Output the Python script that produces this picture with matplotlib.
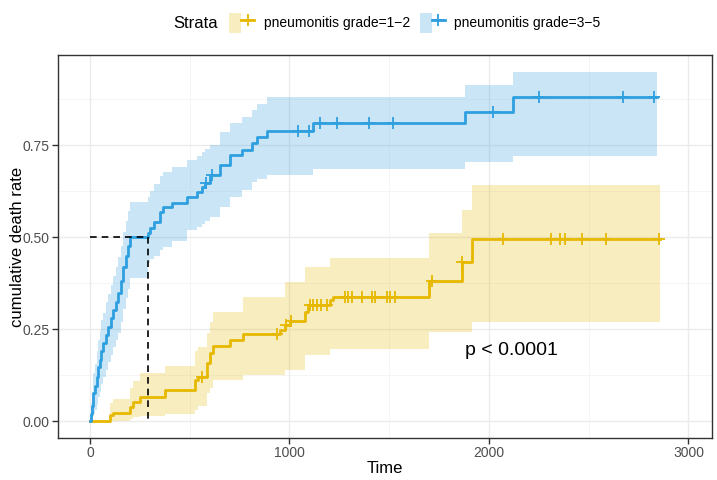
import numpy as np
import matplotlib
matplotlib.use("Agg")
import matplotlib.pyplot as plt
from matplotlib.patches import Patch
from matplotlib.lines import Line2D
from matplotlib.legend_handler import HandlerTuple

plt.rcParams['font.family'] = ['Liberation Sans', 'DejaVu Sans']

# ---- data ----
# grade 1-2 (yellow)
g12_t = [0, 100, 117, 200, 217, 251, 376, 526, 543, 585, 601, 618, 702, 768, 952, 977,
         1003, 1078, 1094, 1203, 1220, 1701, 1863, 1917, 2857]
g12_s = [0, 0.016, 0.021, 0.039, 0.052, 0.066, 0.084, 0.111, 0.120, 0.157, 0.184, 0.204,
         0.220, 0.236, 0.247, 0.261, 0.272, 0.297, 0.315, 0.329, 0.336, 0.381, 0.433, 0.494, 0.494]
g12_lo = [0, 0, 0, 0.005, 0.01, 0.015, 0.02, 0.03, 0.04, 0.076, 0.09, 0.111, 0.111, 0.125,
          0.125, 0.139, 0.139, 0.179, 0.179, 0.197, 0.197, 0.243, 0.243, 0.270, 0.270]
g12_hi = [0, 0.05, 0.06, 0.09, 0.11, 0.13, 0.15, 0.19, 0.20, 0.24, 0.27, 0.297, 0.297, 0.338,
          0.338, 0.379, 0.379, 0.419, 0.419, 0.442, 0.442, 0.51, 0.575, 0.643, 0.643]
g12_cens_t = [560, 940, 985, 1010, 1103, 1120, 1140, 1160, 1186, 1278, 1295, 1312, 1362,
              1412, 1429, 1487, 1504, 1529, 1713, 1863, 2068, 2311, 2356, 2381, 2468, 2585, 2854]

# grade 3-5 (blue)
g35_t = [0, 5, 10, 17, 25, 33, 42, 50, 58, 67, 80, 92, 105, 117, 130, 142, 155, 167, 180,
         190, 200, 292, 300, 320, 350, 367, 409, 485, 535, 560, 577, 601, 652, 702, 760, 810,
         836, 886, 1119, 1880, 2122, 2840]
g35_s = [0, 0.02, 0.04, 0.075, 0.095, 0.12, 0.148, 0.165, 0.19, 0.211, 0.235, 0.256, 0.28,
         0.302, 0.325, 0.347, 0.38, 0.419, 0.45, 0.475, 0.5, 0.511, 0.524, 0.542, 0.569, 0.582,
         0.592, 0.61, 0.623, 0.637, 0.646, 0.668, 0.696, 0.723, 0.736, 0.755, 0.773, 0.789,
         0.809, 0.841, 0.88, 0.88]
g35_lo = [0, 0, 0, 0.02, 0.03, 0.045, 0.065, 0.08, 0.1, 0.12, 0.14, 0.16, 0.18, 0.2, 0.22,
          0.24, 0.27, 0.305, 0.335, 0.36, 0.39, 0.43, 0.44, 0.45, 0.465, 0.474, 0.49, 0.519,
          0.528, 0.537, 0.545, 0.555, 0.582, 0.61, 0.628, 0.65, 0.659, 0.668, 0.684, 0.705,
          0.721, 0.721]
g35_hi = [0, 0.05, 0.08, 0.13, 0.155, 0.19, 0.22, 0.245, 0.275, 0.295, 0.325, 0.345, 0.37,
          0.395, 0.42, 0.445, 0.475, 0.515, 0.545, 0.57, 0.596, 0.61, 0.625, 0.645, 0.665,
          0.677, 0.691, 0.709, 0.72, 0.732, 0.74, 0.75, 0.786, 0.809, 0.827, 0.845, 0.863,
          0.881, 0.881, 0.913, 0.948, 0.948]
g35_cens_t = [581, 610, 1044, 1099, 1153, 1240, 1400, 1520, 2022, 2252, 2673, 2827]

median_t = 290
labels = ["pneumonitis grade=1\u22122", "pneumonitis grade=3\u22125"]
colors = ["#E7B800", "#2E9FDF"]


def step_value(ts, ss, x):
    i = np.searchsorted(ts, x, side='right') - 1
    return np.asarray(ss)[i]


fig = plt.figure(figsize=(7.17, 4.8), dpi=100)
ax = fig.add_axes([58 / 717, 1 - 438 / 480, (712 - 58) / 717, (438 - 55) / 480])

# grid
for v in [500, 1500, 2500]:
    ax.axvline(v, color='#F4F4F4', lw=0.6, zorder=0)
for v in [0.125, 0.375, 0.625, 0.875]:
    ax.axhline(v, color='#F4F4F4', lw=0.6, zorder=0)
for v in [0, 1000, 2000, 3000]:
    ax.axvline(v, color='#EBEBEB', lw=1.0, zorder=0)
for v in [0, 0.25, 0.5, 0.75]:
    ax.axhline(v, color='#EBEBEB', lw=1.0, zorder=0)

series = [(g12_t, g12_s, g12_lo, g12_hi, g12_cens_t),
          (g35_t, g35_s, g35_lo, g35_hi, g35_cens_t)]
for (t, s, lo, hi, ct), col in zip(series, colors):
    ax.fill_between(t, lo, hi, step='post', color=col, alpha=0.25, lw=0, zorder=1)
    ax.step(t, s, where='post', color=col, lw=2.0, zorder=3)
    ax.plot(ct, step_value(t, s, ct), ls='none', marker='+', color=col,
            ms=8, mew=1.3, zorder=4)

# median line
ax.plot([0, median_t], [0.5, 0.5], color='black', ls=(0, (4, 3)), lw=1.2, zorder=5)
ax.plot([median_t, median_t], [0.5, 0], color='black', ls=(0, (4, 3)), lw=1.2, zorder=5)

ax.text(1880, 0.193, "p < 0.0001", fontsize=14, va='center', ha='left')

ax.set_xlim(-160, 3118)
ax.set_ylim(-0.046, 0.995)
ax.set_xticks([0, 1000, 2000, 3000])
ax.set_yticks([0, 0.25, 0.5, 0.75])
ax.set_yticklabels(["0.00", "0.25", "0.50", "0.75"])
ax.tick_params(colors='#333333', labelcolor='#4D4D4D', labelsize=10, length=4, width=1, pad=2)
for sp in ax.spines.values():
    sp.set_color('#333333')
    sp.set_linewidth(1.0)
ax.set_xlabel("Time", fontsize=12, labelpad=0.5)
ax.set_ylabel("cumulative death rate", fontsize=12, labelpad=-1.5)

# legend on top
handles = [(Patch(facecolor=c, alpha=0.25, lw=0),
            Line2D([], [], color=c, lw=2.0, marker='+', ms=8, mew=1.3)) for c in colors]
fig.text(173 / 717, 1 - 23 / 480, "Strata", fontsize=12, va='center', ha='left')
fig.legend(handles, labels, handler_map={tuple: HandlerTuple(ndivide=None)},
           ncol=2, frameon=False, fontsize=10, loc='center left',
           bbox_to_anchor=(222 / 717, 1 - 23 / 480), handlelength=1.8, handleheight=1.8,
           handletextpad=0.7, columnspacing=0.7, borderpad=0)

fig.savefig("out.png", dpi=100)
